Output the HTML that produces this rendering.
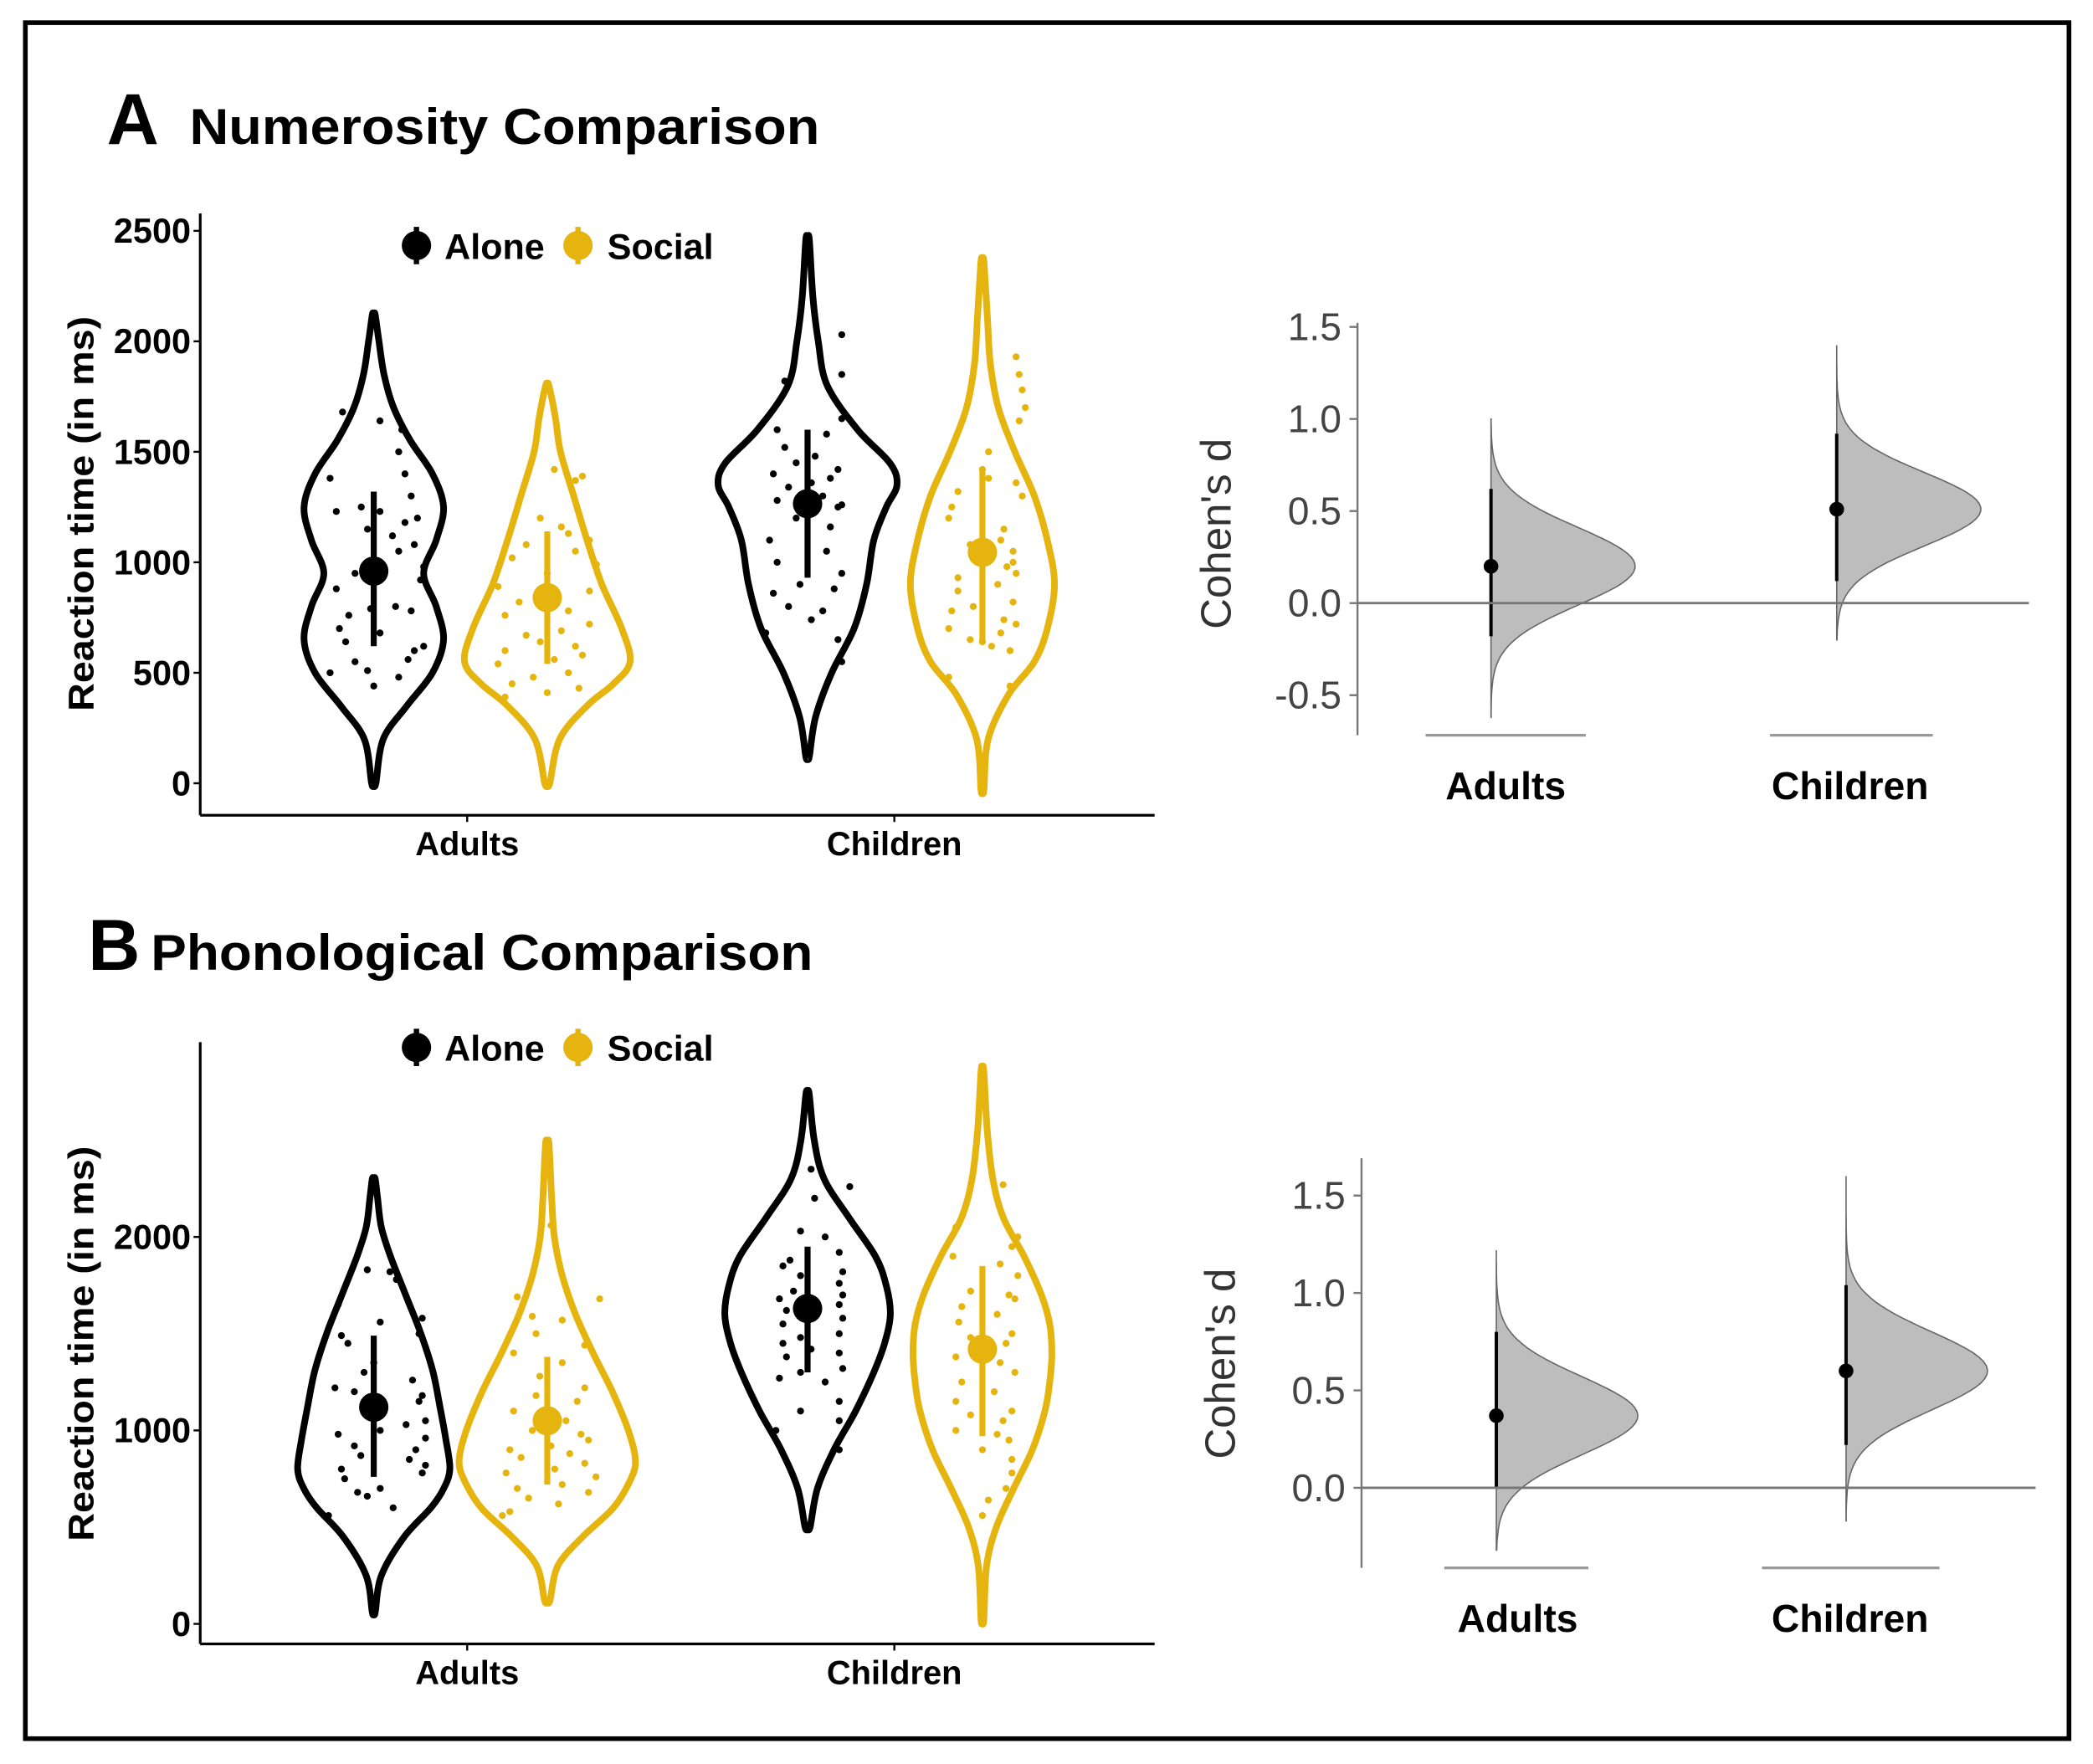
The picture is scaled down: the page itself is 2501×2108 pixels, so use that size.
<!DOCTYPE html>
<html><head><meta charset="utf-8"><style>
html,body{margin:0;padding:0;background:#fff;}
svg{display:block;}
text{font-family:"Liberation Sans",sans-serif;}
</style></head><body>
<svg id="fig" width="2501" height="2108" viewBox="0 0 1568 1322" preserveAspectRatio="none" xmlns="http://www.w3.org/2000/svg">
<rect x="0" y="0" width="1568" height="1322" fill="#fff"/>
<rect x="19" y="17" width="1531" height="1286" fill="none" stroke="#000" stroke-width="3.5"/>
<g id="gA">
<text x="80" y="108" font-size="54" font-weight="bold">A</text>
<text x="142" y="108" font-size="38" font-weight="bold" textLength="472" lengthAdjust="spacingAndGlyphs">Numerosity Comparison</text>
</g>
<g id="gB">
<text x="66" y="727" font-size="54" font-weight="bold">B</text>
<text x="113" y="727" font-size="38" font-weight="bold" textLength="496" lengthAdjust="spacingAndGlyphs">Phonological Comparison</text>
</g>
</svg>
<script>
// ---------- data ----------
const groups = ["Adults", "Children"];
const conditions = ["Alone", "Social"];
const aAdAloneV = [0,200,350,500,650,800,950,1100,1250,1400,1550,1700,1850,2000,2120];
const aAdAloneD = [0.03,0.13,0.45,0.8,0.95,0.85,0.68,0.85,0.95,0.8,0.5,0.27,0.14,0.07,0.02];
const aAdSocV = [0,200,350,450,550,700,900,1100,1300,1500,1650,1800];
const aAdSocD = [0.03,0.15,0.48,0.8,1.0,0.9,0.66,0.48,0.32,0.16,0.1,0.02];
const aChAloneV = [120,300,500,700,900,1100,1250,1350,1450,1600,1800,2000,2200,2460];
const aChAloneD = [0.02,0.09,0.27,0.52,0.66,0.74,0.88,1.0,0.92,0.56,0.22,0.12,0.06,0.02];
const aChSocV = [-30,200,400,550,700,900,1100,1300,1500,1700,1900,2100,2360];
const aChSocD = [0.02,0.08,0.36,0.72,0.9,1.0,0.9,0.72,0.45,0.22,0.11,0.07,0.02];
const aMeans = [960, 840, 1265, 1045];
const aLow = [620, 540, 930, 640];
const aHigh = [1320, 1140, 1600, 1410];
const aAdAlonePts = [1680,1640,1600,1500,1400,1380,1300,1250,1230,1230,1200,1180,1150,1120,1080,1050,980,950,920,880,800,790,780,760,700,680,640,620,600,560,550,510,500,480,440];
const aAdAloneJ = [-0.5,0.1,0.45,0.4,0.5,-0.7,0.6,-0.2,-0.6,0.1,0.7,0.5,-0.1,0.3,0.65,0.4,0.8,-0.3,0.75,-0.6,0.35,-0.05,0.6,-0.4,-0.55,0.1,-0.45,0.8,0.65,0.55,-0.3,-0.1,-0.7,0.4,0.0];
const aAdSocPts = [1420,1390,1370,1200,1160,1130,1100,1080,1050,1020,990,950,890,870,860,820,780,760,720,690,670,640,620,600,580,560,540,500,480,450,430,410,390];
const aAdSocJ = [0.1,0.5,0.4,-0.1,0.2,0.3,0.6,-0.3,0.4,-0.5,0.7,0.0,-0.7,0.6,0.1,-0.4,0.3,-0.6,0.6,0.2,-0.3,-0.1,0.4,-0.6,0.5,0.1,-0.7,0.3,-0.2,-0.5,0.45,0.0,-0.6];
const aChAlonePts = [2030,1850,1820,1650,1600,1580,1520,1480,1450,1420,1400,1380,1360,1340,1300,1280,1260,1250,1200,1160,1100,1050,1000,950,900,880,860,800,780,740,680,650,550];
const aChAloneJ = [0.45,0.45,-0.3,0.45,-0.4,0.25,-0.3,0.1,-0.15,0.4,-0.45,0.3,0.05,-0.25,0.2,-0.4,0.45,0.4,-0.15,0.3,-0.5,0.25,-0.4,0.45,-0.1,0.35,-0.45,-0.25,0.2,0.05,-0.55,0.4,0.45];
const aChSocPts = [1930,1850,1780,1700,1640,1500,1420,1380,1360,1320,1300,1250,1200,1150,1100,1080,1050,1000,980,950,930,900,870,820,800,780,740,720,700,680,650,640,620,600,480,440];
const aChSocJ = [0.55,0.6,0.65,0.7,0.6,0.1,0.0,0.1,0.55,-0.4,0.65,-0.5,-0.55,0.35,0.3,-0.2,0.5,0.5,0.4,0.55,-0.4,0.25,-0.4,0.5,-0.15,-0.5,0.35,0.55,-0.55,0.3,-0.2,0.0,0.15,0.45,-0.55,0.45];
const bAdAloneV = [60,250,450,600,700,800,950,1100,1300,1500,1700,1900,2050,2200,2300];
const bAdAloneD = [0.02,0.1,0.4,0.75,0.92,1.0,0.95,0.88,0.78,0.62,0.42,0.22,0.1,0.05,0.02];
const bAdSocV = [120,300,450,600,750,850,1000,1200,1400,1600,1800,2000,2200,2480];
const bAdSocD = [0.03,0.12,0.4,0.75,0.95,1.0,0.92,0.74,0.52,0.32,0.17,0.08,0.05,0.02];
const bChAloneV = [500,700,900,1100,1300,1450,1600,1750,1900,2100,2300,2500,2740];
const bChAloneD = [0.03,0.12,0.32,0.58,0.8,0.93,1.0,0.95,0.82,0.5,0.2,0.08,0.02];
const bChSocV = [20,300,500,700,900,1100,1250,1400,1550,1700,1900,2100,2300,2550,2860];
const bChSocD = [0.02,0.06,0.2,0.45,0.72,0.9,0.97,1.0,0.97,0.85,0.6,0.3,0.15,0.07,0.02];
const bMeans = [1120, 1050, 1630, 1420];
const bLow = [760, 720, 1300, 970];
const bHigh = [1490, 1380, 1950, 1850];
const bAdAlonePts = [1830,1820,1780,1650,1580,1560,1500,1490,1450,1350,1300,1260,1220,1200,1180,1150,1100,1050,1030,1000,980,960,920,900,870,850,820,800,780,750,700,680,660,600,560];
const bAdAlonePtsJ = [-0.1,0.25,0.35,-0.55,0.75,0.1,0.7,-0.5,-0.4,0.0,-0.15,0.6,-0.6,-0.3,0.75,0.7,-0.15,0.8,0.5,0.1,-0.55,0.8,-0.3,0.65,-0.2,0.55,0.8,-0.5,0.75,-0.45,0.1,-0.25,-0.1,0.3,-0.7];
const bAdSocPts = [2060,1690,1680,1590,1570,1500,1440,1400,1350,1280,1220,1180,1150,1100,1050,1000,980,950,920,900,880,860,830,800,780,760,720,700,680,650,620,580,560];
const bAdSocJ = [0.05,-0.4,0.7,-0.2,0.2,-0.15,0.5,-0.45,0.2,-0.1,0.5,-0.15,0.4,-0.45,0.25,-0.2,0.45,0.55,0.05,-0.5,0.3,-0.35,0.5,0.1,-0.55,0.65,0.2,-0.4,0.55,-0.25,0.15,-0.5,-0.6];
const bChAlonePts = [2350,2260,2200,2030,2000,1920,1880,1850,1820,1800,1760,1720,1700,1680,1650,1620,1600,1580,1550,1500,1480,1450,1420,1400,1380,1320,1300,1270,1250,1150,1100,1050,1000,900];
const bChAloneJ = [0.05,0.6,0.1,-0.1,0.25,0.45,-0.25,-0.35,0.5,-0.1,0.45,-0.2,0.5,-0.4,0.45,-0.3,0.05,0.5,-0.35,0.45,-0.1,-0.35,0.05,0.45,-0.3,0.5,-0.1,-0.4,0.25,0.45,-0.1,0.45,-0.45,0.45];
const bChSocPts = [2270,2050,2000,1950,1900,1860,1800,1720,1700,1680,1640,1600,1560,1500,1480,1450,1400,1380,1350,1300,1250,1200,1150,1100,1080,1050,1000,980,950,900,850,780,700,640,560];
const bChSocJ = [0.35,-0.45,0.6,0.5,-0.5,0.3,0.6,-0.2,0.45,0.55,-0.35,0.25,-0.4,0.5,-0.2,0.4,0.1,-0.45,0.3,0.55,-0.35,0.2,-0.45,0.5,-0.2,0.35,-0.45,0.25,0.45,0.0,0.5,0.5,0.4,0.1,0.0];
const aD = [0.20, 0.51];
const aDLow = [-0.18, 0.12];
const aDHigh = [0.62, 0.92];
const aDMin = [-0.62, -0.20];
const aDMax = [1.00, 1.40];
const aDsd = [0.21, 0.20];
const bD = [0.37, 0.60];
const bDLow = [0.00, 0.22];
const bDHigh = [0.80, 1.04];
const bDMin = [-0.32, -0.17];
const bDMax = [1.22, 1.60];
const bDsd = [0.20, 0.20];
const aTicks = [0, 500, 1000, 1500, 2000, 2500];
const bTicks = [0, 1000, 2000];
const dTicksA = [-0.5, 0.0, 0.5, 1.0, 1.5];
const dTicksB = [0.0, 0.5, 1.0, 1.5];

// ---------- helpers ----------
const NS = "http://www.w3.org/2000/svg";
const svg = document.getElementById("fig");
function mk(tag, attrs, parent) {
  const e = document.createElementNS(NS, tag);
  for (const k in attrs) e.setAttribute(k, attrs[k]);
  (parent || svg).appendChild(e);
  return e;
}
function smooth(pts) {
  let d = "M" + pts[0][0] + "," + pts[0][1];
  for (let i = 0; i < pts.length - 1; i++) {
    const p0 = pts[Math.max(0, i - 1)], p1 = pts[i], p2 = pts[i + 1], p3 = pts[Math.min(pts.length - 1, i + 2)];
    const c1 = [p1[0] + (p2[0] - p0[0]) / 6, p1[1] + (p2[1] - p0[1]) / 6];
    const c2 = [p2[0] - (p3[0] - p1[0]) / 6, p2[1] - (p3[1] - p1[1]) / 6];
    d += " C" + c1[0].toFixed(1) + "," + c1[1].toFixed(1) + " " + c2[0].toFixed(1) + "," + c2[1].toFixed(1) + " " + p2[0].toFixed(1) + "," + p2[1].toFixed(1);
  }
  return d;
}
const GOLD = "#E6B40E";

function violinPanel(cfg) {
  const g = mk("g", {});
  
  
  const y = cfg.y;
  const ya = mk("line", {x1: cfg.x0, y1: cfg.yTop, x2: cfg.x0, y2: cfg.yBase, stroke: "#000", "stroke-width": 2}, g);
  
  
  const xa = mk("line", {x1: cfg.x0, y1: cfg.yBase, x2: cfg.x1, y2: cfg.yBase, stroke: "#000", "stroke-width": 2}, g);
  
  
  cfg.ticks.forEach(t => {
    const tl = mk("line", {x1: cfg.x0 - 5, y1: y(t), x2: cfg.x0, y2: y(t), stroke: "#000", "stroke-width": 1.5}, g);
    
    
    const tx = mk("text", {x: cfg.x0 - 7, y: y(t) + 9, "font-size": 26, "font-weight": "bold", "text-anchor": "end"}, g);
    tx.textContent = t;
    
    
  });
  const yt = mk("text", {x: 0, y: 0, "font-size": 27, "font-weight": "bold", "text-anchor": "middle", textLength: 296, lengthAdjust: "spacingAndGlyphs", transform: "translate(" + (cfg.x0 - 80) + "," + cfg.titleY + ") rotate(-90)"}, g);
  yt.textContent = "Reaction time (in ms)";
  
  
  groups.forEach((gr, i) => {
    const gx = [350, 670][i];
    mk("line", {x1: gx, y1: cfg.yBase, x2: gx, y2: cfg.yBase + 5, stroke: "#000", "stroke-width": 1.5}, g);
    const t = mk("text", {x: gx, y: cfg.yBase + 30, "font-size": 25, "font-weight": "bold", "text-anchor": "middle"}, g);
    t.textContent = gr;
    
    
  });
  const lg = mk("g", {}, g);
  
  
  [["Alone", "#000", 312, 333], ["Social", GOLD, 433, 455]].forEach(L => {
    const c = mk("circle", {cx: L[2], cy: cfg.legY, r: 11, fill: L[1]}, lg);
    
    
    mk("line", {x1: L[2], y1: cfg.legY - 14, x2: L[2], y2: cfg.legY + 14, stroke: L[1], "stroke-width": 4}, lg);
    const t = mk("text", {x: L[3], y: cfg.legY + 10, "font-size": 27, "font-weight": "bold"}, lg);
    t.textContent = L[0];
    
    
  });
  const centers = [280, 410, 605, 736];
  const names = ["adults-alone", "adults-social", "children-alone", "children-social"];
  cfg.violins.forEach((v, i) => {
    const cx = centers[i];
    const col = i % 2 === 0 ? "#000" : GOLD;
    const ptsR = v.vals.map((val, k) => [cx + v.dens[k] * v.w, y(val)]);
    const ptsL = v.vals.map((val, k) => [cx - v.dens[k] * v.w, y(val)]).reverse();
    const all = [[cx, y(v.vals[0])]].concat(ptsR).concat([[cx, y(v.vals[v.vals.length - 1])]]).concat(ptsL).concat([[cx, y(v.vals[0])]]);
    const p = mk("path", {d: smooth(all), fill: "none", stroke: col, "stroke-width": 5, "stroke-linejoin": "round"}, g);
    
    
    v.pts.forEach((val, k) => {
      const c = mk("circle", {cx: cx + v.jit[k] * v.w * 0.85, cy: y(val), r: 2.6, fill: col}, g);
      
      
    });
    const e = mk("line", {x1: cx, y1: y(cfg.low[i]), x2: cx, y2: y(cfg.high[i]), stroke: col, "stroke-width": 4.5}, g);
    
    
    const m = mk("circle", {cx: cx, cy: y(cfg.means[i]), r: 11, fill: col}, g);
    
    
  });
}

function cohenPanel(cfg) {
  const g = mk("g", {});
  
  
  const y = cfg.y;
  const ya = mk("line", {x1: cfg.x0, y1: cfg.yTop, x2: cfg.x0, y2: cfg.yBot, stroke: "#777", "stroke-width": 1.5}, g);
  
  
  cfg.ticks.forEach(t => {
    mk("line", {x1: cfg.x0 - 6, y1: y(t), x2: cfg.x0, y2: y(t), stroke: "#777", "stroke-width": 1.5}, g);
    const tx = mk("text", {x: cfg.x0 - 12, y: y(t) + 10, "font-size": 29, fill: "#444", "text-anchor": "end"}, g);
    tx.textContent = t.toFixed(1);
    
    
  });
  const yt = mk("text", {x: 0, y: 0, "font-size": 32, fill: "#333", "text-anchor": "middle", transform: "translate(" + (cfg.x0 - 95) + "," + cfg.titleY + ") rotate(-90)"}, g);
  yt.textContent = "Cohen's d";
  
  
  groups.forEach((gr, i) => {
    const cx = cfg.cx[i];
    const n = 80, pts = [];
    const lo = cfg.min[i], hi = cfg.max[i], mu = cfg.d[i], sd = cfg.sd[i];
    for (let k = 0; k <= n; k++) {
      const v = hi - (hi - lo) * k / n;
      const dens = Math.exp(-0.5 * Math.pow((v - mu) / sd, 2));
      pts.push((cx + dens * cfg.w).toFixed(1) + "," + y(v).toFixed(1));
    }
    const p = mk("path", {d: "M" + cx + "," + y(hi) + " L" + pts.join(" L") + " L" + cx + "," + y(lo) + " Z", fill: "#BDBDBD", stroke: "#666", "stroke-width": 1}, g);
    
    
    const e = mk("line", {x1: cx, y1: y(cfg.low[i]), x2: cx, y2: y(cfg.high[i]), stroke: "#000", "stroke-width": 2.5}, g);
    
    
    const dt = mk("circle", {cx: cx, cy: y(mu), r: 5.5, fill: "#000"}, g);
    
    
    const bl = mk("line", {x1: cfg.bar[i][0], y1: cfg.yBot, x2: cfg.bar[i][1], y2: cfg.yBot, stroke: "#999", "stroke-width": 2}, g);
    
    
    const t = mk("text", {x: cfg.lab[i], y: cfg.yBot + 48, "font-size": 29, "font-weight": "bold", "text-anchor": "middle"}, g);
    t.textContent = gr;
    
    
  });
  const z = mk("line", {x1: cfg.x0, y1: y(0), x2: cfg.zEnd, y2: y(0), stroke: "#777", "stroke-width": 1.8}, g);
  
  
}

violinPanel({
  name: "violin-chart-a", y: v => 587 - v * 414 / 2500, x0: 150, x1: 865, yTop: 160, yBase: 611, ticks: aTicks, titleY: 385, legY: 184,
  means: aMeans, low: aLow, high: aHigh,
  violins: [
    {vals: aAdAloneV, dens: aAdAloneD, w: 55, pts: aAdAlonePts, jit: aAdAloneJ},
    {vals: aAdSocV, dens: aAdSocD, w: 62, pts: aAdSocPts, jit: aAdSocJ},
    {vals: aChAloneV, dens: aChAloneD, w: 67, pts: aChAlonePts, jit: aChAloneJ},
    {vals: aChSocV, dens: aChSocD, w: 54, pts: aChSocPts, jit: aChSocJ}
  ]
});
violinPanel({
  name: "violin-chart-b", y: v => 1217 - v * 0.145, x0: 150, x1: 865, yTop: 781, yBase: 1232, ticks: bTicks, titleY: 1007, legY: 785,
  means: bMeans, low: bLow, high: bHigh,
  violins: [
    {vals: bAdAloneV, dens: bAdAloneD, w: 57, pts: bAdAlonePts, jit: bAdAlonePtsJ},
    {vals: bAdSocV, dens: bAdSocD, w: 66, pts: bAdSocPts, jit: bAdSocJ},
    {vals: bChAloneV, dens: bChAloneD, w: 62, pts: bChAlonePts, jit: bChAloneJ},
    {vals: bChSocV, dens: bChSocD, w: 52, pts: bChSocPts, jit: bChSocJ}
  ]
});
cohenPanel({
  name: "cohen-chart-a", y: d => 452 - d * 138, x0: 1017, yTop: 242, yBot: 551, ticks: dTicksA, titleY: 400, zEnd: 1520,
  cx: [1117, 1376], d: aD, low: aDLow, high: aDHigh, min: aDMin, max: aDMax, sd: aDsd, w: 108,
  bar: [[1068, 1188], [1326, 1448]], lab: [1128, 1386]
});
cohenPanel({
  name: "cohen-chart-b", y: d => 1115 - d * 146, x0: 1020, yTop: 868, yBot: 1175, ticks: dTicksB, titleY: 1022, zEnd: 1525,
  cx: [1121, 1383], d: bD, low: bDLow, high: bDHigh, min: bDMin, max: bDMax, sd: bDsd, w: 106,
  bar: [[1082, 1190], [1320, 1453]], lab: [1137, 1386]
});
</script>
</body></html>
